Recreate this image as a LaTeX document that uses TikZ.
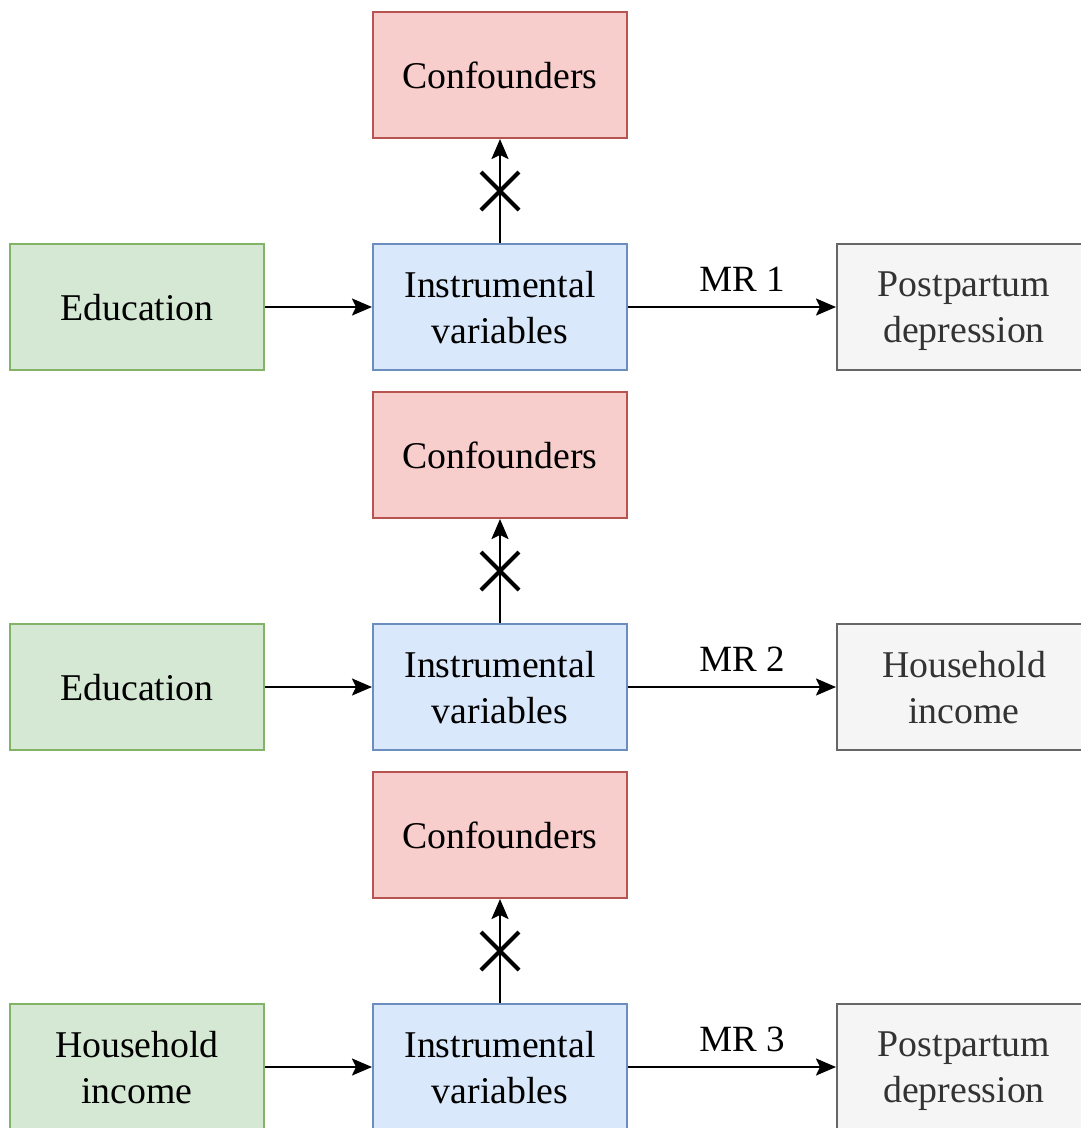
\documentclass[tikz,border=0pt]{standalone}
\usepackage{fontspec}
\setmainfont{Liberation Serif}
\usetikzlibrary{arrows.meta}
\definecolor{gfill}{HTML}{D5E8D4}\definecolor{gline}{HTML}{82B366}
\definecolor{bfill}{HTML}{DAE8FC}\definecolor{bline}{HTML}{6C8EBF}
\definecolor{rfill}{HTML}{F8CECC}\definecolor{rline}{HTML}{B85450}
\definecolor{yfill}{HTML}{F5F5F5}\definecolor{yline}{HTML}{666666}
\definecolor{ytext}{HTML}{333333}
\tikzset{
  boxbase/.style={rectangle, minimum width=254pt, minimum height=126pt, inner sep=0pt, line width=2pt, align=center, text depth=0pt, font=\fontsize{37.8}{46}\selectfont},
  greenbox/.style={boxbase, fill=gfill, draw=gline},
  bluebox/.style={boxbase, fill=bfill, draw=bline},
  redbox/.style={boxbase, fill=rfill, draw=rline},
  greybox/.style={boxbase, fill=yfill, draw=yline, text=ytext},
  conn/.style={line width=2.2pt, -{Stealth[length=20pt,width=17pt,inset=4pt]}},
  crossline/.style={line width=4pt},
  mrlabel/.style={font=\fontsize{37}{44}\selectfont, inner sep=0pt}
}
\begin{document}
\begin{tikzpicture}[x=1pt,y=-1pt]
\useasboundingbox (0,0) rectangle (1081,1128);
\clip (0,0) rectangle (1081,1128);
\foreach \r/\lname/\rname/\mr in {0/{Education}/{Postpartum\\depression}/1, 1/{Education}/{Household\\income}/2, 2/{Household\\income}/{Postpartum\\depression}/3}{
  \pgfmathsetmacro{\yo}{380*\r}
  \node[redbox] (conf\r) at (500,75+\yo) {Confounders};
  \node[greenbox] (exp\r) at (137,307+\yo) {\lname};
  \node[bluebox] (iv\r) at (500,307+\yo) {Instrumental\\variables};
  \node[greybox, anchor=west] (out\r) at (836,307+\yo) {\rname};
  \draw[conn] (exp\r.east) -- (iv\r.west);
  \draw[conn] (iv\r.east) -- node[mrlabel, above=14pt, xshift=10pt] (mr\r) {MR \mr} (out\r.west);
  \draw[conn] (iv\r.north) -- node[coordinate, pos=0.5] (x\r) {} (conf\r.south);
  \draw[crossline] ([shift={(-19pt,-19pt)}]x\r) -- ([shift={(19pt,19pt)}]x\r);
  \draw[crossline] ([shift={(-19pt,19pt)}]x\r) -- ([shift={(19pt,-19pt)}]x\r);
}
\end{tikzpicture}
\end{document}
